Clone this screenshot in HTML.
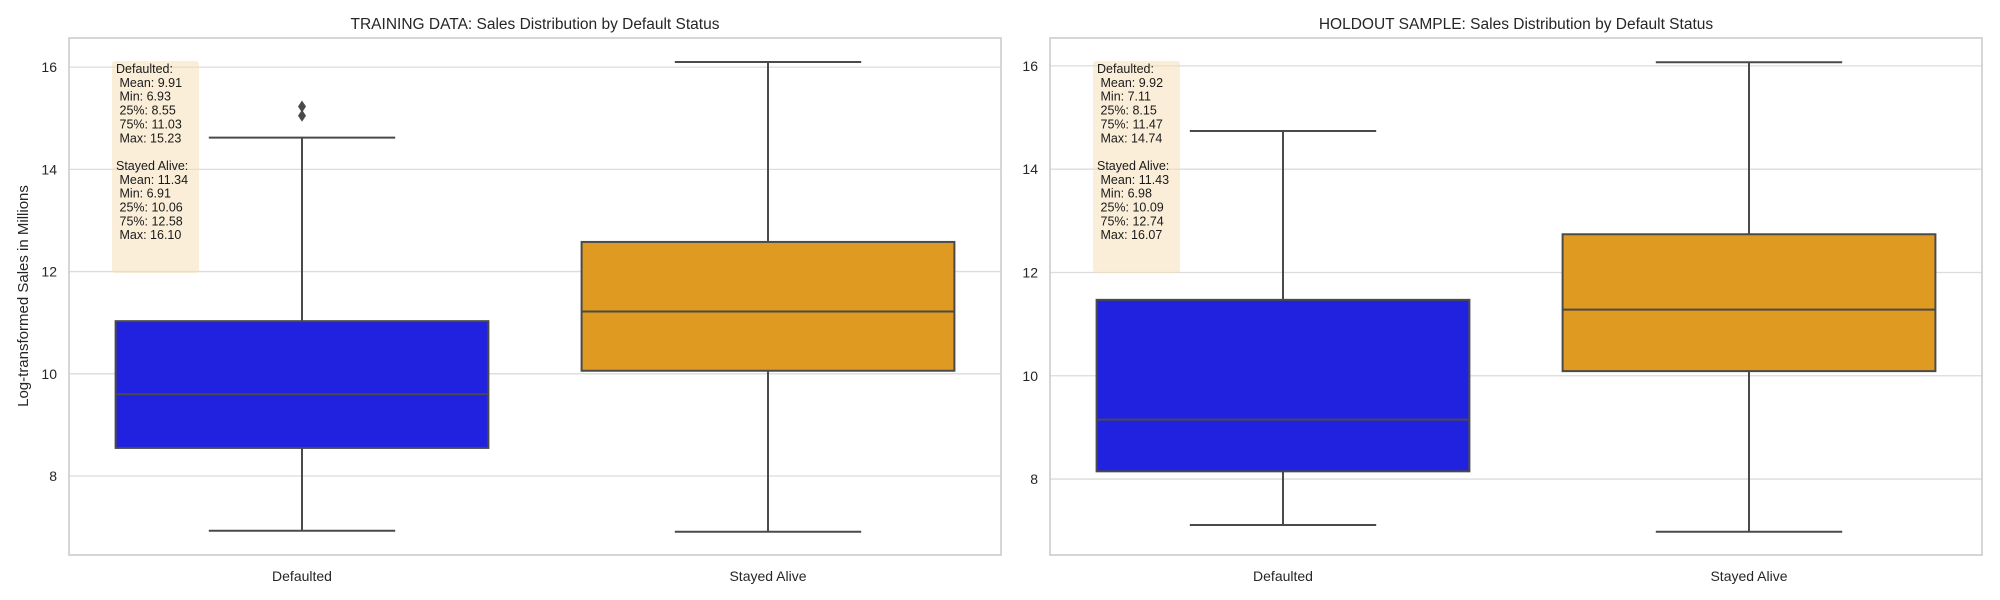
<!DOCTYPE html>
<html><head><meta charset="utf-8"><style>
html,body{margin:0;padding:0;background:#fff;}
svg{display:block;font-family:"Liberation Sans",Arial,sans-serif;}
</style></head><body>
<svg id="chart" width="2000" height="600" xmlns="http://www.w3.org/2000/svg"></svg>
<script>
const categories = ["Defaulted", "Stayed Alive"];
const panelTitles = ["TRAINING DATA: Sales Distribution by Default Status", "HOLDOUT SAMPLE: Sales Distribution by Default Status"];
const yTicks = [8, 10, 12, 14, 16];
// per panel: [Defaulted, Stayed Alive]
const trainLow = [6.93, 6.91];
const trainQ1 = [8.55, 10.06];
const trainMed = [9.60, 11.22];
const trainQ3 = [11.03, 12.58];
const trainHigh = [14.62, 16.10];
const trainOutliers = [[15.05, 15.23], []];
const holdLow = [7.11, 6.98];
const holdQ1 = [8.15, 10.09];
const holdMed = [9.15, 11.28];
const holdQ3 = [11.47, 12.74];
const holdHigh = [14.74, 16.07];
const holdOutliers = [[], []];
const trainStats = ["Defaulted:", " Mean: 9.91", " Min: 6.93", " 25%: 8.55", " 75%: 11.03", " Max: 15.23", "", "Stayed Alive:", " Mean: 11.34", " Min: 6.91", " 25%: 10.06", " 75%: 12.58", " Max: 16.10"];
const holdStats = ["Defaulted:", " Mean: 9.92", " Min: 7.11", " 25%: 8.15", " 75%: 11.47", " Max: 14.74", "", "Stayed Alive:", " Mean: 11.43", " Min: 6.98", " 25%: 10.09", " 75%: 12.74", " Max: 16.07"];

const NS = "http://www.w3.org/2000/svg";
const svg = document.getElementById("chart");
const colors = ["#2121e0", "#df9b21"];
function mk(tag, attrs, parent) {
  const e = document.createElementNS(NS, tag);
  for (const k in attrs) e.setAttribute(k, attrs[k]);
  (parent || svg).appendChild(e);
  return e;
}
const panels = [
  {x0: 69, x1: 1001, yMin: 6.455, yMax: 16.57, title: panelTitles[0], low: trainLow, q1: trainQ1, med: trainMed, q3: trainQ3, high: trainHigh, out: trainOutliers, stats: trainStats, name: "training"},
  {x0: 1050, x1: 1982, yMin: 6.53, yMax: 16.54, title: panelTitles[1], low: holdLow, q1: holdQ1, med: holdMed, q3: holdQ3, high: holdHigh, out: holdOutliers, stats: holdStats, name: "holdout"}
];
const plotTop = 38, plotBottom = 555;
panels.forEach((p, pi) => {
  const g = mk("g", {});
  
  
  const y = v => plotBottom - (v - p.yMin) / (p.yMax - p.yMin) * (plotBottom - plotTop);
  const band = (p.x1 - p.x0) / categories.length;
  const cx = i => p.x0 + band * (i + 0.5);
  yTicks.forEach(t => {
    const l = mk("line", {x1: p.x0, x2: p.x1, y1: y(t), y2: y(t), stroke: "#dcdcdc", "stroke-width": 1.3}, g);
    
    
    const tx = mk("text", {x: p.x0 - 12, y: y(t) + 5, "text-anchor": "end", "font-size": 14, fill: "#262626"}, g);
    tx.textContent = t;
    
    
  });
  categories.forEach((c, i) => {
    const bw = band * 0.8, x = cx(i);
    const edge = "#4a4a4a";
    const wl = mk("line", {x1: x, x2: x, y1: y(p.q3[i]), y2: y(p.high[i]), stroke: edge, "stroke-width": 2}, g);
    
    
    const wl2 = mk("line", {x1: x, x2: x, y1: y(p.q1[i]), y2: y(p.low[i]), stroke: edge, "stroke-width": 2}, g);
    
    
    [p.high[i], p.low[i]].forEach(v => {
      const cap = mk("line", {x1: x - bw / 4, x2: x + bw / 4, y1: y(v), y2: y(v), stroke: edge, "stroke-width": 2}, g);
      
      
    });
    const r = mk("rect", {x: x - bw / 2, y: y(p.q3[i]), width: bw, height: y(p.q1[i]) - y(p.q3[i]), fill: colors[i], stroke: edge, "stroke-width": 2}, g);
    
    
    const m = mk("line", {x1: x - bw / 2, x2: x + bw / 2, y1: y(p.med[i]), y2: y(p.med[i]), stroke: edge, "stroke-width": 2}, g);
    
    
    p.out[i].forEach(v => {
      const d = mk("path", {d: `M${x},${y(v) - 6} L${x + 4},${y(v)} L${x},${y(v) + 6} L${x - 4},${y(v)} Z`, fill: edge}, g);
      
      
    });
    const xl = mk("text", {x: x, y: 581, "text-anchor": "middle", "font-size": 14, fill: "#262626"}, g);
    xl.textContent = c;
    
    
  });
  const fr = mk("rect", {x: p.x0, y: plotTop, width: p.x1 - p.x0, height: plotBottom - plotTop, fill: "none", stroke: "#cccccc", "stroke-width": 1.6}, g);
  
  
  const sb = mk("rect", {x: p.x0 + 43, y: 61, width: 87, height: 212, rx: 3, fill: "#f5deb3", "fill-opacity": 0.5}, g);
  
  
  const st = mk("text", {x: p.x0 + 47, y: 73, "font-size": 12.5, fill: "#1a1a1a"}, g);
  
  
  p.stats.forEach((s, k) => {
    const ts = mk("tspan", {x: p.x0 + 47 + (s.startsWith(" ") ? 3.5 : 0), dy: k === 0 ? 0 : 13.85}, st);
    ts.textContent = s.trim() || " ";
  });
  const ti = mk("text", {x: (p.x0 + p.x1) / 2, y: 29, "text-anchor": "middle", "font-size": 15.5, fill: "#262626"}, g);
  ti.textContent = p.title;
  
  
});
const yl = mk("text", {x: 0, y: 0, "text-anchor": "middle", "font-size": 15, fill: "#262626", transform: "translate(28,296) rotate(-90)"});
yl.textContent = "Log-transformed Sales in Millions";


</script>
</body></html>
